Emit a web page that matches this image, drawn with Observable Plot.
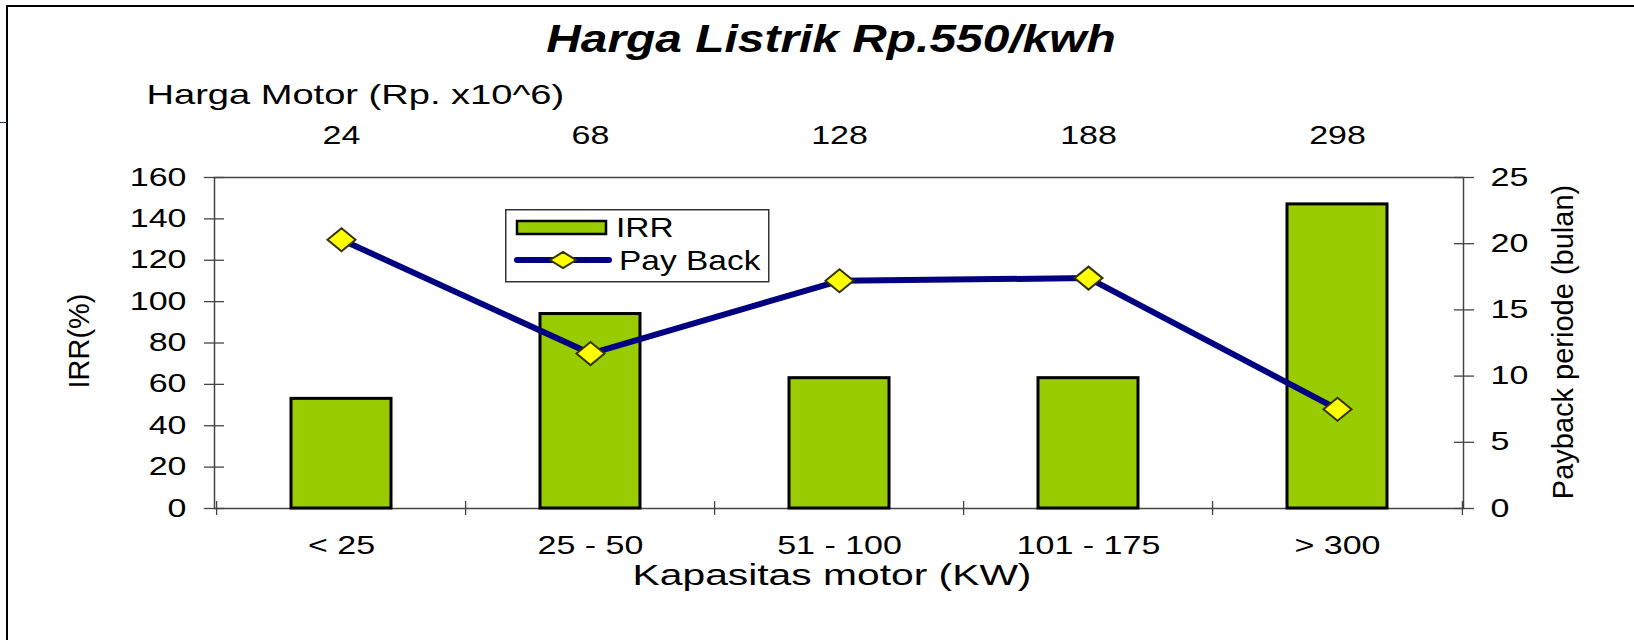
<!DOCTYPE html>
<html>
<head>
<meta charset="utf-8">
<script src="https://cdn.jsdelivr.net/npm/d3@7"></script>
<script src="https://cdn.jsdelivr.net/npm/@observablehq/plot@0.6"></script>
<style>
  html, body { margin: 0; padding: 0; background: #fff; }
  body { font-family: "Liberation Sans", Arial, sans-serif; }
  #page { position: relative; width: 1634px; height: 640px; overflow: hidden; }
  #titlebar { position: relative; height: 64px; }
  #title { position: absolute; left: 831px; top: 19.5px; font-size: 38px; line-height: 38px;
           font-weight: bold; font-style: italic; white-space: nowrap;
           transform: translateX(-50%) scaleX(1.26); }
  #borderTop { position: absolute; left: 6px; top: 5px; width: 1630px; height: 0; border-top: 2px solid #000; z-index: 5; }
  #borderLeft { position: absolute; left: 6px; top: 5px; width: 0; height: 640px; border-left: 2px solid #000; z-index: 5; }
  #navyTick { position: absolute; left: 0; top: 122px; width: 7px; height: 0; border-top: 1.5px solid #1d3550; z-index: 5; }
  #legend { position: absolute; left: 505px; top: 209px; z-index: 6; }
  #chart svg { display: block; }
</style>
</head>
<body>
<div id="page">
  <div id="borderTop"></div>
  <div id="borderLeft"></div>
  <div id="navyTick"></div>
  <div id="titlebar"><span id="title"></span></div>
  <div id="chart"></div>
  <div id="legend"></div>
</div>
<script>
// ---- data ----
const chartTitle = "Harga Listrik Rp.550/kwh";
const categories = ["< 25", "25 - 50", "51 - 100", "101 - 175", "> 300"];
const motorPrices = [24, 68, 128, 188, 298];
const irr = [53, 94, 63, 63, 147];
const payback = [20.3, 11.7, 17.2, 17.4, 7.5];
const irrTicks = [0, 20, 40, 60, 80, 100, 120, 140, 160];
const paybackTicks = [0, 5, 10, 15, 20, 25];
const topAxisLabel = "Harga Motor (Rp. x10^6)";
const xAxisLabel = "Kapasitas motor (KW)";
const leftAxisLabel = "IRR(%)";
const rightAxisLabel = "Payback periode (bulan)";
const seriesNames = ["IRR", "Pay Back"];

// ---- build ----
document.getElementById("title").textContent = chartTitle;

const irrMax = 160, pbMax = 25, k = irrMax / pbMax;
const rows = categories.map((c, i) => ({cat: c, price: motorPrices[i], irr: irr[i], pb: payback[i]}));

const W = 1634, H = 576, mL = 214, mR = 171, mT = 113, mB = 132;
const step = (W - mL - mR) / categories.length;

const diamond = {
  draw(ctx) {
    ctx.moveTo(-14, 0); ctx.lineTo(0, -11.5); ctx.lineTo(14, 0); ctx.lineTo(0, 11.5); ctx.closePath();
  }
};

const axisStroke = "#444";
const chart = Plot.plot({
  width: W, height: H,
  marginLeft: mL, marginRight: mR, marginTop: mT, marginBottom: mB,
  style: {fontFamily: '"Liberation Sans", Arial, sans-serif', fontSize: "25px", color: "#000", background: "transparent", overflow: "visible"},
  x: {type: "band", domain: categories, paddingInner: 0.6, paddingOuter: 0.3},
  y: {domain: [0, irrMax]},
  marks: [
    Plot.frame({stroke: axisStroke, strokeWidth: 1.5}),
    Plot.barY(rows, {x: "cat", y: "irr", fill: "#99cc00", stroke: "#000", strokeWidth: 3}),
    // left axis: crossing ticks + labels
    Plot.axisY(irrTicks, {anchor: "left", tickSize: 20, insetLeft: 10, tickFormat: () => "", label: null, stroke: axisStroke, strokeWidth: 1.3}),
    Plot.axisY(irrTicks, {anchor: "left", tickSize: 0, tickPadding: 28, label: null, fontSize: 25}),
    // right axis (payback mapped to IRR scale)
    Plot.axisY(paybackTicks.map(v => v * k), {anchor: "right", tickSize: 20, insetRight: 10, tickFormat: () => "", label: null, stroke: axisStroke, strokeWidth: 1.3}),
    Plot.axisY(paybackTicks.map(v => v * k), {anchor: "right", tickSize: 0, tickPadding: 27, tickFormat: v => String(Math.round(v / k)), label: null, fontSize: 25}),
    // bottom axis: ticks at category boundaries
    Plot.axisX(categories, {anchor: "bottom", tickSize: 14, insetBottom: 7, dx: -step / 2, tickFormat: () => "", label: null, stroke: axisStroke, strokeWidth: 1.3}),
    Plot.axisX(categories.slice(-1), {anchor: "bottom", tickSize: 14, insetBottom: 7, dx: step / 2, tickFormat: () => "", label: null, stroke: axisStroke, strokeWidth: 1.3}),
    Plot.axisX(categories, {anchor: "bottom", tickSize: 0, tickPadding: 28, label: null, fontSize: 25}),
    // top labels: motor price
    Plot.text(rows, {x: "cat", text: d => String(d.price), frameAnchor: "top", lineAnchor: "middle", dy: -42, fontSize: 25}),
    Plot.text([topAxisLabel], {text: d => d, frameAnchor: "top-left", textAnchor: "start", lineAnchor: "middle", dx: -68, dy: -82, fontSize: 28}),
    Plot.text([xAxisLabel], {text: d => d, frameAnchor: "bottom", lineAnchor: "middle", dx: -7, dy: 67, fontSize: 30}),
    Plot.text([leftAxisLabel], {text: d => d, frameAnchor: "left", textAnchor: "middle", lineAnchor: "middle", dx: -135, dy: -2, rotate: -90, fontSize: 29}),
    Plot.text([rightAxisLabel], {text: d => d, frameAnchor: "right", textAnchor: "middle", lineAnchor: "middle", dx: 100, dy: -1, rotate: -90, fontSize: 29}),
    // payback line
    Plot.line(rows, {x: "cat", y: d => d.pb * k, stroke: "#000080", strokeWidth: 6, strokeLinejoin: "round"}),
    Plot.dot(rows, {x: "cat", y: d => d.pb * k, symbol: diamond, fill: "#ffff00", stroke: "#333300", strokeWidth: 2})
  ]
});

// horizontally widen upright texts to mimic the stretched original rendering
chart.querySelectorAll("text").forEach(t => {
  const tr = t.getAttribute("transform");
  if (tr) {
    if (!tr.includes("rotate")) t.setAttribute("transform", tr + " scale(1.36,1)");
  } else {
    const x = t.getAttribute("x") || 0, y = t.getAttribute("y") || 0;
    t.removeAttribute("x"); t.removeAttribute("y");
    t.setAttribute("transform", `translate(${x},${y}) scale(1.36,1)`);
  }
});
document.getElementById("chart").appendChild(chart);

// ---- legend ----
const lg = d3.select("#legend").append("svg").attr("width", 266).attr("height", 75)
  .style("font-family", '"Liberation Sans", Arial, sans-serif');
lg.append("rect").attr("x", 0.75).attr("y", 0.75).attr("width", 263).attr("height", 72)
  .attr("fill", "#fff").attr("stroke", "#333").attr("stroke-width", 1.5);
lg.append("rect").attr("x", 12).attr("y", 12).attr("width", 89).attr("height", 13)
  .attr("fill", "#99cc00").attr("stroke", "#000").attr("stroke-width", 2.5);
lg.append("line").attr("x1", 12).attr("x2", 104).attr("y1", 51).attr("y2", 51)
  .attr("stroke", "#000080").attr("stroke-width", 6).attr("stroke-linecap", "round");
lg.append("path").attr("transform", "translate(58,51)")
  .attr("d", "M-13,0L0,-8L13,0L0,8Z").attr("fill", "#ffff00").attr("stroke", "#333300").attr("stroke-width", 2);
lg.append("text").attr("transform", "translate(111,28) scale(1.24,1)").attr("font-size", 27).text(seriesNames[0]);
lg.append("text").attr("transform", "translate(114,61) scale(1.24,1)").attr("font-size", 27).text(seriesNames[1]);
</script>
</body>
</html>
